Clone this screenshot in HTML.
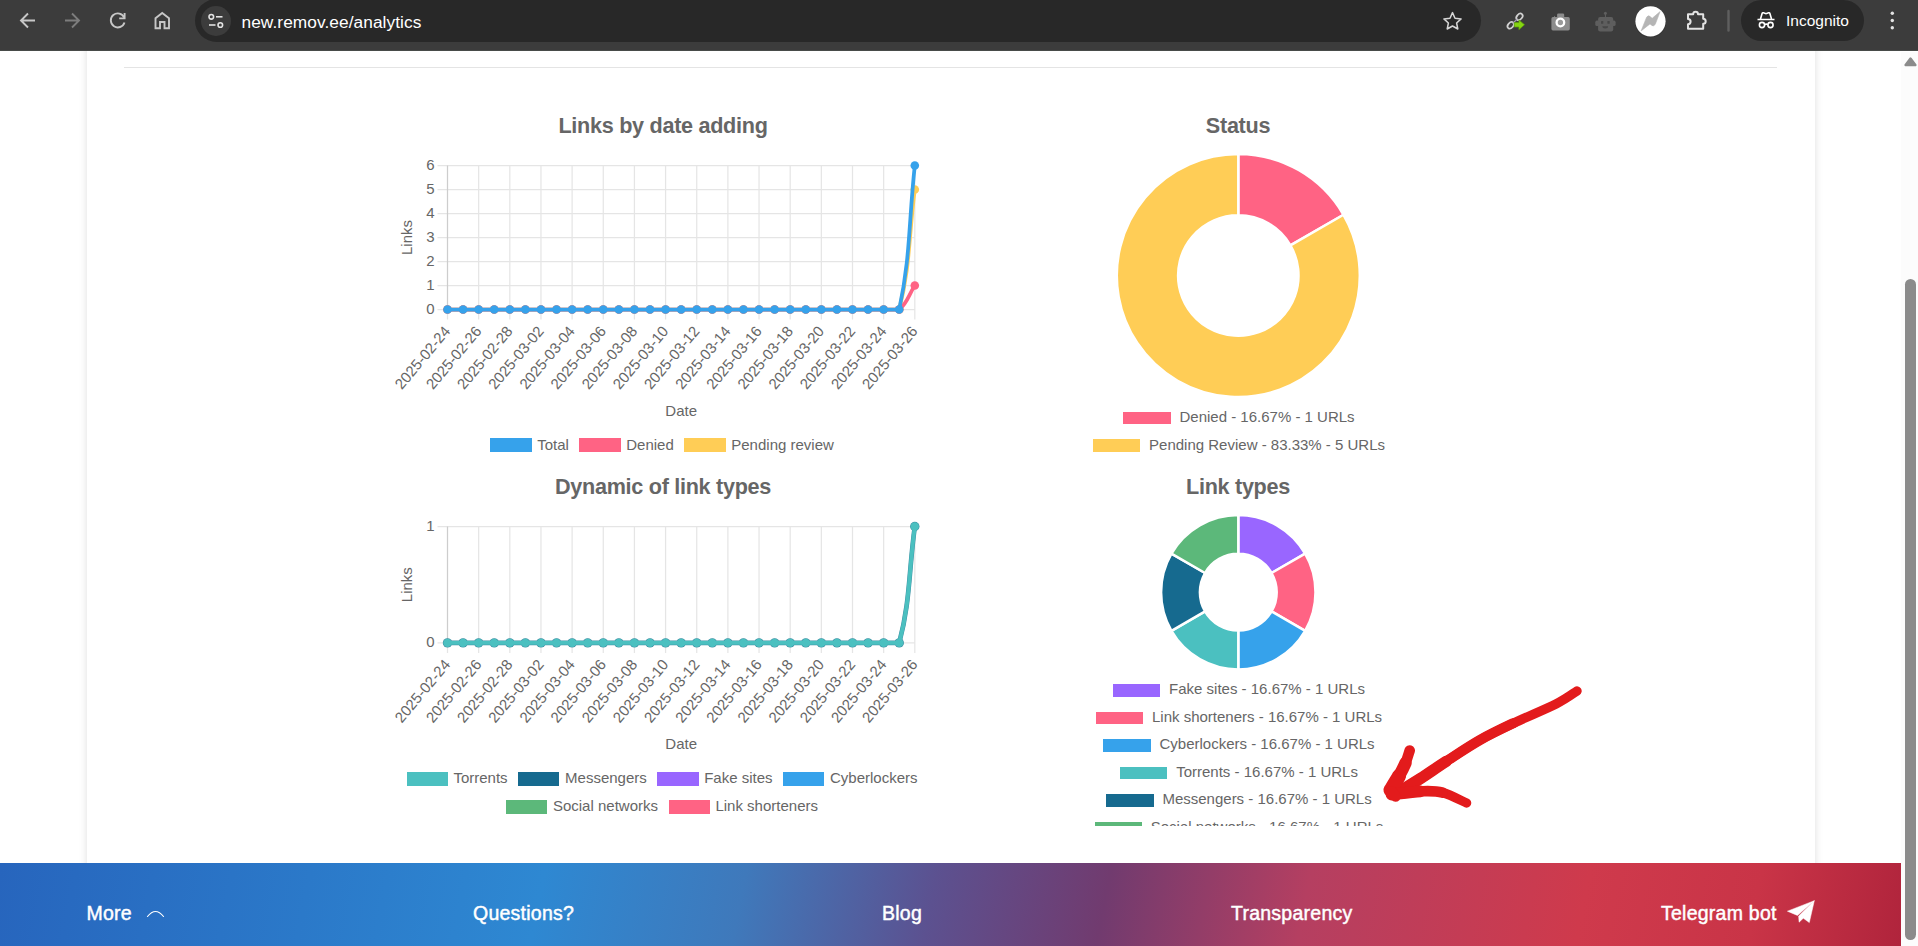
<!DOCTYPE html>
<html lang="en"><head><meta charset="utf-8"><title>Analytics</title>
<style>
*{box-sizing:border-box}
html,body{margin:0;padding:0}
body{width:1918px;height:946px;overflow:hidden;position:relative;background:#fff;font-family:"Liberation Sans",Arial,sans-serif;color:#666}
#toolbar{position:absolute;left:0;top:0;width:1918px;height:51px;background:#3c3c3c;border-bottom:1px solid #484b49}
#omni{position:absolute;left:195px;top:-1px;width:1286px;height:43px;border-radius:22px;background:#282828}
#omni .site{position:absolute;left:6px;top:7px;width:30.4px;height:30.4px;border-radius:50%;background:#3c3c3c}
#url{position:absolute;left:241.5px;top:10.9px;font-size:17.3px;line-height:22px;color:#fff;white-space:nowrap;letter-spacing:0.07px}
#url span{color:#fff}
#incog{position:absolute;left:1741px;top:0;width:123px;height:41px;border-radius:21px;background:#282828}
#incog b{position:absolute;left:45px;top:10.6px;font-weight:normal;font-size:15.5px;line-height:20px;color:#fff}
.tb{position:absolute;top:0;left:0}
#card{position:absolute;left:87px;top:40px;width:1728px;height:920px;background:#fff;box-shadow:0 0 8px rgba(0,0,0,0.13)}
#hr{position:absolute;left:124px;top:67px;width:1653px;height:1px;background:#e4e4e4}
h3{position:absolute;margin:0;font-size:22.5px;line-height:26px;font-weight:bold;color:#666;white-space:nowrap;text-align:center;letter-spacing:-0.3px;transform:translateX(-50%) scaleX(0.96)}
.chart{position:absolute;overflow:hidden}
.lg{position:absolute;text-align:center;white-space:nowrap;font-size:15px;line-height:15px;height:15px;color:#666}
.li{display:inline-block;margin:0 6.25px;height:15px;vertical-align:top;position:relative}
.li u{text-decoration:none;position:relative;top:-1.6px}
.pie .li u{top:-1.5px}
.l1 .li u{top:-0.9px}
.li i{display:inline-block;vertical-align:top;margin-right:7.5px}
.line .li i{width:41.25px;height:13.75px;margin:0.6px 5.6px 0 -1.9px}
.pie .li i{width:47.5px;height:12.5px;margin:1.25px 8.75px 0 1.25px}
#footer{position:absolute;left:0;top:863px;width:1901px;height:83px;background:linear-gradient(101deg,#2765bd 0%,#2e88d2 28.5%,#3f79bb 39%,#5c5190 49%,#713b6f 58%,#b53f61 68.5%,#cf3a4c 83%,#c93447 92%,#b0243c 100%)}
#footer a{position:absolute;top:0;line-height:100px;font-size:19.5px;color:#fff;text-decoration:none;white-space:nowrap;-webkit-text-stroke:0.45px #fff;letter-spacing:0.25px}
#sb{position:absolute;left:1901px;top:52px;width:17px;height:894px;background:#fcfcfc}
#sb .thumb{position:absolute;left:4px;top:227px;width:11px;height:661px;border-radius:5.5px;background:#8b8b8b}
#sb .up{position:absolute;left:0;top:0}
#clipR{position:absolute;left:1060px;top:470px;width:380px;height:356px;overflow:hidden}
#arrow{position:absolute;left:0;top:0;pointer-events:none}
</style></head><body>

<div id="card"></div><div id="hr"></div>
<h3 style="left:663px;top:113.4px">Links by date adding</h3>
<h3 style="left:1238px;top:113.4px">Status</h3>
<h3 style="left:663px;top:474.4px">Dynamic of link types</h3>
<h3 style="left:1238px;top:474.4px">Link types</h3>
<svg class="chart" style="left:385px;top:150px" width="560" height="285" viewBox="385 150 560 285" font-family='"Liberation Sans", Arial, sans-serif' font-size="15" fill="#666">
<path d="M447.50,165.5V319.5 M478.65,165.5V319.5 M509.81,165.5V319.5 M540.96,165.5V319.5 M572.11,165.5V319.5 M603.27,165.5V319.5 M634.42,165.5V319.5 M665.57,165.5V319.5 M696.73,165.5V319.5 M727.88,165.5V319.5 M759.03,165.5V319.5 M790.19,165.5V319.5 M821.34,165.5V319.5 M852.49,165.5V319.5 M883.65,165.5V319.5 M914.80,165.5V319.5 M437.50,309.50H914.8 M437.50,285.50H914.8 M437.50,261.50H914.8 M437.50,237.50H914.8 M437.50,213.50H914.8 M437.50,189.50H914.8 M437.50,165.50H914.8" stroke="rgba(0,0,0,0.1)" stroke-width="1.25" fill="none"/>
<path d="M447.5,165.5V309.5" stroke="rgba(0,0,0,0.1)" stroke-width="1.25" fill="none"/>
<text x="434.50" y="313.90" text-anchor="end">0</text>
<text x="434.50" y="289.90" text-anchor="end">1</text>
<text x="434.50" y="265.90" text-anchor="end">2</text>
<text x="434.50" y="241.90" text-anchor="end">3</text>
<text x="434.50" y="217.90" text-anchor="end">4</text>
<text x="434.50" y="193.90" text-anchor="end">5</text>
<text x="434.50" y="169.90" text-anchor="end">6</text>
<text transform="translate(412.3,237.50) rotate(-90)" text-anchor="middle">Links</text>
<text transform="translate(451.10,331.50) rotate(-50)" text-anchor="end">2025-02-24</text>
<text transform="translate(482.25,331.50) rotate(-50)" text-anchor="end">2025-02-26</text>
<text transform="translate(513.41,331.50) rotate(-50)" text-anchor="end">2025-02-28</text>
<text transform="translate(544.56,331.50) rotate(-50)" text-anchor="end">2025-03-02</text>
<text transform="translate(575.71,331.50) rotate(-50)" text-anchor="end">2025-03-04</text>
<text transform="translate(606.87,331.50) rotate(-50)" text-anchor="end">2025-03-06</text>
<text transform="translate(638.02,331.50) rotate(-50)" text-anchor="end">2025-03-08</text>
<text transform="translate(669.17,331.50) rotate(-50)" text-anchor="end">2025-03-10</text>
<text transform="translate(700.33,331.50) rotate(-50)" text-anchor="end">2025-03-12</text>
<text transform="translate(731.48,331.50) rotate(-50)" text-anchor="end">2025-03-14</text>
<text transform="translate(762.63,331.50) rotate(-50)" text-anchor="end">2025-03-16</text>
<text transform="translate(793.79,331.50) rotate(-50)" text-anchor="end">2025-03-18</text>
<text transform="translate(824.94,331.50) rotate(-50)" text-anchor="end">2025-03-20</text>
<text transform="translate(856.09,331.50) rotate(-50)" text-anchor="end">2025-03-22</text>
<text transform="translate(887.25,331.50) rotate(-50)" text-anchor="end">2025-03-24</text>
<text transform="translate(918.40,331.50) rotate(-50)" text-anchor="end">2025-03-26</text>
<text x="681.15" y="415.5" text-anchor="middle">Date</text>
<path d="M447.50,309.50 C453.73,309.50 456.85,309.50 463.08,309.50 C469.31,309.50 472.42,309.50 478.65,309.50 C484.88,309.50 488.00,309.50 494.23,309.50 C500.46,309.50 503.58,309.50 509.81,309.50 C516.04,309.50 519.15,309.50 525.38,309.50 C531.61,309.50 534.73,309.50 540.96,309.50 C547.19,309.50 550.31,309.50 556.54,309.50 C562.77,309.50 565.88,309.50 572.11,309.50 C578.34,309.50 581.46,309.50 587.69,309.50 C593.92,309.50 597.04,309.50 603.27,309.50 C609.50,309.50 612.61,309.50 618.84,309.50 C625.07,309.50 628.19,309.50 634.42,309.50 C640.65,309.50 643.77,309.50 650.00,309.50 C656.23,309.50 659.34,309.50 665.57,309.50 C671.80,309.50 674.92,309.50 681.15,309.50 C687.38,309.50 690.50,309.50 696.73,309.50 C702.96,309.50 706.07,309.50 712.30,309.50 C718.53,309.50 721.65,309.50 727.88,309.50 C734.11,309.50 737.23,309.50 743.46,309.50 C749.69,309.50 752.80,309.50 759.03,309.50 C765.26,309.50 768.38,309.50 774.61,309.50 C780.84,309.50 783.96,309.50 790.19,309.50 C796.42,309.50 799.53,309.50 805.76,309.50 C811.99,309.50 815.11,309.50 821.34,309.50 C827.57,309.50 830.69,309.50 836.92,309.50 C843.15,309.50 846.26,309.50 852.49,309.50 C858.72,309.50 861.84,309.50 868.07,309.50 C874.30,309.50 877.42,309.50 883.65,309.50 C889.88,309.50 897.80,309.50 899.22,309.50 C910.26,266.97 908.57,237.50 914.80,189.50" stroke="#ffcd56" stroke-width="3.75" fill="none" stroke-linejoin="round"/>
<g fill="#ffcd56"><circle cx="447.50" cy="309.50" r="4.3"/><circle cx="463.08" cy="309.50" r="4.3"/><circle cx="478.65" cy="309.50" r="4.3"/><circle cx="494.23" cy="309.50" r="4.3"/><circle cx="509.81" cy="309.50" r="4.3"/><circle cx="525.38" cy="309.50" r="4.3"/><circle cx="540.96" cy="309.50" r="4.3"/><circle cx="556.54" cy="309.50" r="4.3"/><circle cx="572.11" cy="309.50" r="4.3"/><circle cx="587.69" cy="309.50" r="4.3"/><circle cx="603.27" cy="309.50" r="4.3"/><circle cx="618.84" cy="309.50" r="4.3"/><circle cx="634.42" cy="309.50" r="4.3"/><circle cx="650.00" cy="309.50" r="4.3"/><circle cx="665.57" cy="309.50" r="4.3"/><circle cx="681.15" cy="309.50" r="4.3"/><circle cx="696.73" cy="309.50" r="4.3"/><circle cx="712.30" cy="309.50" r="4.3"/><circle cx="727.88" cy="309.50" r="4.3"/><circle cx="743.46" cy="309.50" r="4.3"/><circle cx="759.03" cy="309.50" r="4.3"/><circle cx="774.61" cy="309.50" r="4.3"/><circle cx="790.19" cy="309.50" r="4.3"/><circle cx="805.76" cy="309.50" r="4.3"/><circle cx="821.34" cy="309.50" r="4.3"/><circle cx="836.92" cy="309.50" r="4.3"/><circle cx="852.49" cy="309.50" r="4.3"/><circle cx="868.07" cy="309.50" r="4.3"/><circle cx="883.65" cy="309.50" r="4.3"/><circle cx="899.22" cy="309.50" r="4.3"/><circle cx="914.80" cy="189.50" r="4.3"/></g>
<path d="M447.50,309.50 C453.73,309.50 456.85,309.50 463.08,309.50 C469.31,309.50 472.42,309.50 478.65,309.50 C484.88,309.50 488.00,309.50 494.23,309.50 C500.46,309.50 503.58,309.50 509.81,309.50 C516.04,309.50 519.15,309.50 525.38,309.50 C531.61,309.50 534.73,309.50 540.96,309.50 C547.19,309.50 550.31,309.50 556.54,309.50 C562.77,309.50 565.88,309.50 572.11,309.50 C578.34,309.50 581.46,309.50 587.69,309.50 C593.92,309.50 597.04,309.50 603.27,309.50 C609.50,309.50 612.61,309.50 618.84,309.50 C625.07,309.50 628.19,309.50 634.42,309.50 C640.65,309.50 643.77,309.50 650.00,309.50 C656.23,309.50 659.34,309.50 665.57,309.50 C671.80,309.50 674.92,309.50 681.15,309.50 C687.38,309.50 690.50,309.50 696.73,309.50 C702.96,309.50 706.07,309.50 712.30,309.50 C718.53,309.50 721.65,309.50 727.88,309.50 C734.11,309.50 737.23,309.50 743.46,309.50 C749.69,309.50 752.80,309.50 759.03,309.50 C765.26,309.50 768.38,309.50 774.61,309.50 C780.84,309.50 783.96,309.50 790.19,309.50 C796.42,309.50 799.53,309.50 805.76,309.50 C811.99,309.50 815.11,309.50 821.34,309.50 C827.57,309.50 830.69,309.50 836.92,309.50 C843.15,309.50 846.26,309.50 852.49,309.50 C858.72,309.50 861.84,309.50 868.07,309.50 C874.30,309.50 877.42,309.50 883.65,309.50 C889.88,309.50 894.83,309.50 899.22,309.50 C907.29,303.28 908.57,295.10 914.80,285.50" stroke="#ff6384" stroke-width="3.75" fill="none" stroke-linejoin="round"/>
<g fill="#ff6384"><circle cx="447.50" cy="309.50" r="4.3"/><circle cx="463.08" cy="309.50" r="4.3"/><circle cx="478.65" cy="309.50" r="4.3"/><circle cx="494.23" cy="309.50" r="4.3"/><circle cx="509.81" cy="309.50" r="4.3"/><circle cx="525.38" cy="309.50" r="4.3"/><circle cx="540.96" cy="309.50" r="4.3"/><circle cx="556.54" cy="309.50" r="4.3"/><circle cx="572.11" cy="309.50" r="4.3"/><circle cx="587.69" cy="309.50" r="4.3"/><circle cx="603.27" cy="309.50" r="4.3"/><circle cx="618.84" cy="309.50" r="4.3"/><circle cx="634.42" cy="309.50" r="4.3"/><circle cx="650.00" cy="309.50" r="4.3"/><circle cx="665.57" cy="309.50" r="4.3"/><circle cx="681.15" cy="309.50" r="4.3"/><circle cx="696.73" cy="309.50" r="4.3"/><circle cx="712.30" cy="309.50" r="4.3"/><circle cx="727.88" cy="309.50" r="4.3"/><circle cx="743.46" cy="309.50" r="4.3"/><circle cx="759.03" cy="309.50" r="4.3"/><circle cx="774.61" cy="309.50" r="4.3"/><circle cx="790.19" cy="309.50" r="4.3"/><circle cx="805.76" cy="309.50" r="4.3"/><circle cx="821.34" cy="309.50" r="4.3"/><circle cx="836.92" cy="309.50" r="4.3"/><circle cx="852.49" cy="309.50" r="4.3"/><circle cx="868.07" cy="309.50" r="4.3"/><circle cx="883.65" cy="309.50" r="4.3"/><circle cx="899.22" cy="309.50" r="4.3"/><circle cx="914.80" cy="285.50" r="4.3"/></g>
<path d="M447.50,309.50 C453.73,309.50 456.85,309.50 463.08,309.50 C469.31,309.50 472.42,309.50 478.65,309.50 C484.88,309.50 488.00,309.50 494.23,309.50 C500.46,309.50 503.58,309.50 509.81,309.50 C516.04,309.50 519.15,309.50 525.38,309.50 C531.61,309.50 534.73,309.50 540.96,309.50 C547.19,309.50 550.31,309.50 556.54,309.50 C562.77,309.50 565.88,309.50 572.11,309.50 C578.34,309.50 581.46,309.50 587.69,309.50 C593.92,309.50 597.04,309.50 603.27,309.50 C609.50,309.50 612.61,309.50 618.84,309.50 C625.07,309.50 628.19,309.50 634.42,309.50 C640.65,309.50 643.77,309.50 650.00,309.50 C656.23,309.50 659.34,309.50 665.57,309.50 C671.80,309.50 674.92,309.50 681.15,309.50 C687.38,309.50 690.50,309.50 696.73,309.50 C702.96,309.50 706.07,309.50 712.30,309.50 C718.53,309.50 721.65,309.50 727.88,309.50 C734.11,309.50 737.23,309.50 743.46,309.50 C749.69,309.50 752.80,309.50 759.03,309.50 C765.26,309.50 768.38,309.50 774.61,309.50 C780.84,309.50 783.96,309.50 790.19,309.50 C796.42,309.50 799.53,309.50 805.76,309.50 C811.99,309.50 815.11,309.50 821.34,309.50 C827.57,309.50 830.69,309.50 836.92,309.50 C843.15,309.50 846.26,309.50 852.49,309.50 C858.72,309.50 861.84,309.50 868.07,309.50 C874.30,309.50 877.42,309.50 883.65,309.50 C889.88,309.50 898.01,309.50 899.22,309.50 C910.47,257.49 908.57,223.10 914.80,165.50" stroke="#36a2eb" stroke-width="3.75" fill="none" stroke-linejoin="round"/>
<g fill="#36a2eb"><circle cx="447.50" cy="309.50" r="4.3"/><circle cx="463.08" cy="309.50" r="4.3"/><circle cx="478.65" cy="309.50" r="4.3"/><circle cx="494.23" cy="309.50" r="4.3"/><circle cx="509.81" cy="309.50" r="4.3"/><circle cx="525.38" cy="309.50" r="4.3"/><circle cx="540.96" cy="309.50" r="4.3"/><circle cx="556.54" cy="309.50" r="4.3"/><circle cx="572.11" cy="309.50" r="4.3"/><circle cx="587.69" cy="309.50" r="4.3"/><circle cx="603.27" cy="309.50" r="4.3"/><circle cx="618.84" cy="309.50" r="4.3"/><circle cx="634.42" cy="309.50" r="4.3"/><circle cx="650.00" cy="309.50" r="4.3"/><circle cx="665.57" cy="309.50" r="4.3"/><circle cx="681.15" cy="309.50" r="4.3"/><circle cx="696.73" cy="309.50" r="4.3"/><circle cx="712.30" cy="309.50" r="4.3"/><circle cx="727.88" cy="309.50" r="4.3"/><circle cx="743.46" cy="309.50" r="4.3"/><circle cx="759.03" cy="309.50" r="4.3"/><circle cx="774.61" cy="309.50" r="4.3"/><circle cx="790.19" cy="309.50" r="4.3"/><circle cx="805.76" cy="309.50" r="4.3"/><circle cx="821.34" cy="309.50" r="4.3"/><circle cx="836.92" cy="309.50" r="4.3"/><circle cx="852.49" cy="309.50" r="4.3"/><circle cx="868.07" cy="309.50" r="4.3"/><circle cx="883.65" cy="309.50" r="4.3"/><circle cx="899.22" cy="309.50" r="4.3"/><circle cx="914.80" cy="165.50" r="4.3"/></g>
</svg>
<div class="lg line l1" style="top:437.7px;left:63px;width:1200px"><span class="li"><i style="background:#36a2eb"></i><u>Total</u></span><span class="li"><i style="background:#ff6384"></i><u>Denied</u></span><span class="li"><i style="background:#ffcd56"></i><u>Pending review</u></span></div>
<svg class="chart" style="left:385px;top:510px" width="560" height="245" viewBox="385 510 560 245" font-family='"Liberation Sans", Arial, sans-serif' font-size="15" fill="#666">
<path d="M447.50,526.5V652.9 M478.65,526.5V652.9 M509.81,526.5V652.9 M540.96,526.5V652.9 M572.11,526.5V652.9 M603.27,526.5V652.9 M634.42,526.5V652.9 M665.57,526.5V652.9 M696.73,526.5V652.9 M727.88,526.5V652.9 M759.03,526.5V652.9 M790.19,526.5V652.9 M821.34,526.5V652.9 M852.49,526.5V652.9 M883.65,526.5V652.9 M914.80,526.5V652.9 M437.50,642.90H914.8 M437.50,526.50H914.8" stroke="rgba(0,0,0,0.1)" stroke-width="1.25" fill="none"/>
<path d="M447.5,526.5V642.9" stroke="rgba(0,0,0,0.1)" stroke-width="1.25" fill="none"/>
<text x="434.50" y="647.30" text-anchor="end">0</text>
<text x="434.50" y="530.90" text-anchor="end">1</text>
<text transform="translate(412.3,584.70) rotate(-90)" text-anchor="middle">Links</text>
<text transform="translate(451.10,664.90) rotate(-50)" text-anchor="end">2025-02-24</text>
<text transform="translate(482.25,664.90) rotate(-50)" text-anchor="end">2025-02-26</text>
<text transform="translate(513.41,664.90) rotate(-50)" text-anchor="end">2025-02-28</text>
<text transform="translate(544.56,664.90) rotate(-50)" text-anchor="end">2025-03-02</text>
<text transform="translate(575.71,664.90) rotate(-50)" text-anchor="end">2025-03-04</text>
<text transform="translate(606.87,664.90) rotate(-50)" text-anchor="end">2025-03-06</text>
<text transform="translate(638.02,664.90) rotate(-50)" text-anchor="end">2025-03-08</text>
<text transform="translate(669.17,664.90) rotate(-50)" text-anchor="end">2025-03-10</text>
<text transform="translate(700.33,664.90) rotate(-50)" text-anchor="end">2025-03-12</text>
<text transform="translate(731.48,664.90) rotate(-50)" text-anchor="end">2025-03-14</text>
<text transform="translate(762.63,664.90) rotate(-50)" text-anchor="end">2025-03-16</text>
<text transform="translate(793.79,664.90) rotate(-50)" text-anchor="end">2025-03-18</text>
<text transform="translate(824.94,664.90) rotate(-50)" text-anchor="end">2025-03-20</text>
<text transform="translate(856.09,664.90) rotate(-50)" text-anchor="end">2025-03-22</text>
<text transform="translate(887.25,664.90) rotate(-50)" text-anchor="end">2025-03-24</text>
<text transform="translate(918.40,664.90) rotate(-50)" text-anchor="end">2025-03-26</text>
<text x="681.15" y="748.5" text-anchor="middle">Date</text>
<path d="M447.50,642.90 C453.73,642.90 456.85,642.90 463.08,642.90 C469.31,642.90 472.42,642.90 478.65,642.90 C484.88,642.90 488.00,642.90 494.23,642.90 C500.46,642.90 503.58,642.90 509.81,642.90 C516.04,642.90 519.15,642.90 525.38,642.90 C531.61,642.90 534.73,642.90 540.96,642.90 C547.19,642.90 550.31,642.90 556.54,642.90 C562.77,642.90 565.88,642.90 572.11,642.90 C578.34,642.90 581.46,642.90 587.69,642.90 C593.92,642.90 597.04,642.90 603.27,642.90 C609.50,642.90 612.61,642.90 618.84,642.90 C625.07,642.90 628.19,642.90 634.42,642.90 C640.65,642.90 643.77,642.90 650.00,642.90 C656.23,642.90 659.34,642.90 665.57,642.90 C671.80,642.90 674.92,642.90 681.15,642.90 C687.38,642.90 690.50,642.90 696.73,642.90 C702.96,642.90 706.07,642.90 712.30,642.90 C718.53,642.90 721.65,642.90 727.88,642.90 C734.11,642.90 737.23,642.90 743.46,642.90 C749.69,642.90 752.80,642.90 759.03,642.90 C765.26,642.90 768.38,642.90 774.61,642.90 C780.84,642.90 783.96,642.90 790.19,642.90 C796.42,642.90 799.53,642.90 805.76,642.90 C811.99,642.90 815.11,642.90 821.34,642.90 C827.57,642.90 830.69,642.90 836.92,642.90 C843.15,642.90 846.26,642.90 852.49,642.90 C858.72,642.90 861.84,642.90 868.07,642.90 C874.30,642.90 877.42,642.90 883.65,642.90 C889.88,642.90 897.76,642.90 899.22,642.90 C910.23,601.79 908.57,573.06 914.80,526.50" stroke="#3f8fa3" stroke-width="4.7" fill="none" stroke-linejoin="round"/>
<g fill="#3f8fa3"><circle cx="447.50" cy="642.90" r="4.7"/><circle cx="463.08" cy="642.90" r="4.7"/><circle cx="478.65" cy="642.90" r="4.7"/><circle cx="494.23" cy="642.90" r="4.7"/><circle cx="509.81" cy="642.90" r="4.7"/><circle cx="525.38" cy="642.90" r="4.7"/><circle cx="540.96" cy="642.90" r="4.7"/><circle cx="556.54" cy="642.90" r="4.7"/><circle cx="572.11" cy="642.90" r="4.7"/><circle cx="587.69" cy="642.90" r="4.7"/><circle cx="603.27" cy="642.90" r="4.7"/><circle cx="618.84" cy="642.90" r="4.7"/><circle cx="634.42" cy="642.90" r="4.7"/><circle cx="650.00" cy="642.90" r="4.7"/><circle cx="665.57" cy="642.90" r="4.7"/><circle cx="681.15" cy="642.90" r="4.7"/><circle cx="696.73" cy="642.90" r="4.7"/><circle cx="712.30" cy="642.90" r="4.7"/><circle cx="727.88" cy="642.90" r="4.7"/><circle cx="743.46" cy="642.90" r="4.7"/><circle cx="759.03" cy="642.90" r="4.7"/><circle cx="774.61" cy="642.90" r="4.7"/><circle cx="790.19" cy="642.90" r="4.7"/><circle cx="805.76" cy="642.90" r="4.7"/><circle cx="821.34" cy="642.90" r="4.7"/><circle cx="836.92" cy="642.90" r="4.7"/><circle cx="852.49" cy="642.90" r="4.7"/><circle cx="868.07" cy="642.90" r="4.7"/><circle cx="883.65" cy="642.90" r="4.7"/><circle cx="899.22" cy="642.90" r="4.7"/><circle cx="914.80" cy="526.50" r="4.7"/></g>
<path d="M447.50,642.90 C453.73,642.90 456.85,642.90 463.08,642.90 C469.31,642.90 472.42,642.90 478.65,642.90 C484.88,642.90 488.00,642.90 494.23,642.90 C500.46,642.90 503.58,642.90 509.81,642.90 C516.04,642.90 519.15,642.90 525.38,642.90 C531.61,642.90 534.73,642.90 540.96,642.90 C547.19,642.90 550.31,642.90 556.54,642.90 C562.77,642.90 565.88,642.90 572.11,642.90 C578.34,642.90 581.46,642.90 587.69,642.90 C593.92,642.90 597.04,642.90 603.27,642.90 C609.50,642.90 612.61,642.90 618.84,642.90 C625.07,642.90 628.19,642.90 634.42,642.90 C640.65,642.90 643.77,642.90 650.00,642.90 C656.23,642.90 659.34,642.90 665.57,642.90 C671.80,642.90 674.92,642.90 681.15,642.90 C687.38,642.90 690.50,642.90 696.73,642.90 C702.96,642.90 706.07,642.90 712.30,642.90 C718.53,642.90 721.65,642.90 727.88,642.90 C734.11,642.90 737.23,642.90 743.46,642.90 C749.69,642.90 752.80,642.90 759.03,642.90 C765.26,642.90 768.38,642.90 774.61,642.90 C780.84,642.90 783.96,642.90 790.19,642.90 C796.42,642.90 799.53,642.90 805.76,642.90 C811.99,642.90 815.11,642.90 821.34,642.90 C827.57,642.90 830.69,642.90 836.92,642.90 C843.15,642.90 846.26,642.90 852.49,642.90 C858.72,642.90 861.84,642.90 868.07,642.90 C874.30,642.90 877.42,642.90 883.65,642.90 C889.88,642.90 897.76,642.90 899.22,642.90 C910.23,601.79 908.57,573.06 914.80,526.50" stroke="#4bc0c0" stroke-width="3.9" fill="none" stroke-linejoin="round"/>
<g fill="#4bc0c0"><circle cx="447.50" cy="642.90" r="4.2"/><circle cx="463.08" cy="642.90" r="4.2"/><circle cx="478.65" cy="642.90" r="4.2"/><circle cx="494.23" cy="642.90" r="4.2"/><circle cx="509.81" cy="642.90" r="4.2"/><circle cx="525.38" cy="642.90" r="4.2"/><circle cx="540.96" cy="642.90" r="4.2"/><circle cx="556.54" cy="642.90" r="4.2"/><circle cx="572.11" cy="642.90" r="4.2"/><circle cx="587.69" cy="642.90" r="4.2"/><circle cx="603.27" cy="642.90" r="4.2"/><circle cx="618.84" cy="642.90" r="4.2"/><circle cx="634.42" cy="642.90" r="4.2"/><circle cx="650.00" cy="642.90" r="4.2"/><circle cx="665.57" cy="642.90" r="4.2"/><circle cx="681.15" cy="642.90" r="4.2"/><circle cx="696.73" cy="642.90" r="4.2"/><circle cx="712.30" cy="642.90" r="4.2"/><circle cx="727.88" cy="642.90" r="4.2"/><circle cx="743.46" cy="642.90" r="4.2"/><circle cx="759.03" cy="642.90" r="4.2"/><circle cx="774.61" cy="642.90" r="4.2"/><circle cx="790.19" cy="642.90" r="4.2"/><circle cx="805.76" cy="642.90" r="4.2"/><circle cx="821.34" cy="642.90" r="4.2"/><circle cx="836.92" cy="642.90" r="4.2"/><circle cx="852.49" cy="642.90" r="4.2"/><circle cx="868.07" cy="642.90" r="4.2"/><circle cx="883.65" cy="642.90" r="4.2"/><circle cx="899.22" cy="642.90" r="4.2"/><circle cx="914.80" cy="526.50" r="4.2"/></g>
</svg>
<div class="lg line" style="top:771.5px;left:63px;width:1200px"><span class="li"><i style="background:#4bc0c0"></i><u>Torrents</u></span><span class="li"><i style="background:#166a8f"></i><u>Messengers</u></span><span class="li"><i style="background:#9966ff"></i><u>Fake sites</u></span><span class="li"><i style="background:#36a2eb"></i><u>Cyberlockers</u></span></div>
<div class="lg line" style="top:799.4px;left:63px;width:1200px"><span class="li"><i style="background:#5cb87a"></i><u>Social networks</u></span><span class="li"><i style="background:#ff6384"></i><u>Link shorteners</u></span></div>
<svg class="chart" style="left:1100px;top:150px" width="280" height="252" viewBox="1100 150 280 252">
<path d="M1238.30,154.00A121.5,121.5 0 0 1 1343.52,214.75L1290.43,245.40A60.2,60.2 0 0 0 1238.30,215.30Z" fill="#ff6384" stroke="#fff" stroke-width="2.5" stroke-linejoin="round"/>
<path d="M1343.52,214.75A121.5,121.5 0 1 1 1238.30,154.00L1238.30,215.30A60.2,60.2 0 1 0 1290.43,245.40Z" fill="#ffcd56" stroke="#fff" stroke-width="2.5" stroke-linejoin="round"/>
</svg>
<div class="lg pie" style="top:410.5px;left:638.3px;width:1200px"><span class="li"><i style="background:#ff6384"></i><u>Denied - 16.67% - 1 URLs</u></span></div>
<div class="lg pie" style="top:438px;left:638.3px;width:1200px"><span class="li"><i style="background:#ffcd56"></i><u>Pending Review - 83.33% - 5 URLs</u></span></div>
<div id="clipR">
<svg class="chart" style="left:80px;top:35px" width="220" height="175" viewBox="1140 505 220 175">
<path d="M1238.30,515.00A77.2,77.2 0 0 1 1305.16,553.60L1271.56,573.00A38.4,38.4 0 0 0 1238.30,553.80Z" fill="#9966ff" stroke="#fff" stroke-width="2.5" stroke-linejoin="round"/>
<path d="M1305.16,553.60A77.2,77.2 0 0 1 1305.16,630.80L1271.56,611.40A38.4,38.4 0 0 0 1271.56,573.00Z" fill="#ff6384" stroke="#fff" stroke-width="2.5" stroke-linejoin="round"/>
<path d="M1305.16,630.80A77.2,77.2 0 0 1 1238.30,669.40L1238.30,630.60A38.4,38.4 0 0 0 1271.56,611.40Z" fill="#36a2eb" stroke="#fff" stroke-width="2.5" stroke-linejoin="round"/>
<path d="M1238.30,669.40A77.2,77.2 0 0 1 1171.44,630.80L1205.04,611.40A38.4,38.4 0 0 0 1238.30,630.60Z" fill="#4bc0c0" stroke="#fff" stroke-width="2.5" stroke-linejoin="round"/>
<path d="M1171.44,630.80A77.2,77.2 0 0 1 1171.44,553.60L1205.04,573.00A38.4,38.4 0 0 0 1205.04,611.40Z" fill="#166a8f" stroke="#fff" stroke-width="2.5" stroke-linejoin="round"/>
<path d="M1171.44,553.60A77.2,77.2 0 0 1 1238.30,515.00L1238.30,553.80A38.4,38.4 0 0 0 1205.04,573.00Z" fill="#5cb87a" stroke="#fff" stroke-width="2.5" stroke-linejoin="round"/>
</svg>
<div class="lg pie" style="top:212.75px;left:-421.70000000000005px;width:1200px"><span class="li"><i style="background:#9966ff"></i><u>Fake sites - 16.67% - 1 URLs</u></span></div>
<div class="lg pie" style="top:240.25px;left:-421.70000000000005px;width:1200px"><span class="li"><i style="background:#ff6384"></i><u>Link shorteners - 16.67% - 1 URLs</u></span></div>
<div class="lg pie" style="top:267.75px;left:-421.70000000000005px;width:1200px"><span class="li"><i style="background:#36a2eb"></i><u>Cyberlockers - 16.67% - 1 URLs</u></span></div>
<div class="lg pie" style="top:295.25px;left:-421.70000000000005px;width:1200px"><span class="li"><i style="background:#4bc0c0"></i><u>Torrents - 16.67% - 1 URLs</u></span></div>
<div class="lg pie" style="top:322.75px;left:-421.70000000000005px;width:1200px"><span class="li"><i style="background:#166a8f"></i><u>Messengers - 16.67% - 1 URLs</u></span></div>
<div class="lg pie" style="top:350.25px;left:-421.70000000000005px;width:1200px"><span class="li"><i style="background:#5cb87a"></i><u>Social networks - 16.67% - 1 URLs</u></span></div>
</div>
<div id="footer">
<a style="left:86.5px">More</a>
<svg style="position:absolute;left:146px;top:45px" width="20" height="12" viewBox="0 0 20 12"><path d="M1.5,8.5 Q9.5,-1.5 17.5,8.5" fill="none" stroke="#fff" stroke-width="1.15" stroke-linecap="round"/></svg>
<a style="left:473px">Questions?</a>
<a style="left:882px">Blog</a>
<a style="left:1231px">Transparency</a>
<a style="left:1661px">Telegram bot</a>
<svg style="position:absolute;left:0;top:0" width="1901" height="83" viewBox="0 863 1901 83"><path d="M1814.3,900.7L1787.4,911.2L1797.4,915.4Z M1814.3,900.7L1798.6,916L1799.1,922.2L1803.3,918.2L1809.3,922.6Z" fill="#fff" stroke="#fff" stroke-width="0.5" stroke-linejoin="round"/></svg>
</div>
<div id="sb"><svg class="up" width="17" height="20" viewBox="1901 52 17 20"><path d="M1910.5,58.6L1915.4,65H1905.6Z" fill="#8b8b8b" stroke="#8b8b8b" stroke-width="2.4" stroke-linejoin="round"/></svg><div class="thumb"></div></div>
<div id="toolbar">
<div id="omni"><div class="site"></div></div>
<div id="url">new.remov.ee<span>/analytics</span></div>
<div id="incog"><b>Incognito</b></div>
<svg class="tb" width="1918" height="51" viewBox="0 0 1918 51" fill="none" stroke-linecap="butt">
<g stroke="#c7c7c7" stroke-width="1.9">
<path d="M35,20.5H21.5M28,13.5L21,20.5L28,27.5"/>
</g>
<g stroke="#7d7d7d" stroke-width="1.9">
<path d="M65,20.5H78.5M72,13.5L79,20.5L72,27.5"/>
</g>
<g stroke="#c7c7c7" stroke-width="1.9">
<path d="M124.2,17.5A7,7 0 1 0 124.5,22.5"/>
<path d="M124.6,13V18.4H119.2" />
<path d="M155.5,28.2V18.2L162.2,13L169,18.2V28.2H164.5V22H160V28.2Z"/>
</g>
<g stroke="#e3e3e3" stroke-width="1.6">
<circle cx="211.3" cy="16.8" r="2.3"/><path d="M216,16.8H222.5"/>
<circle cx="220.3" cy="25" r="2.3"/><path d="M209,25H215.5"/>
</g>
<path d="M1452.5,12.6L1455,18.2L1461.1,18.9L1456.6,23L1457.8,29L1452.5,26L1447.2,29L1448.4,23L1443.9,18.9L1450,18.2Z" stroke="#d6d6d6" stroke-width="1.5" stroke-linejoin="round"/>
<g stroke="#d2d2d2" stroke-width="1.7">
<ellipse cx="1510.7" cy="25.3" rx="2.6" ry="3.7" transform="rotate(42 1510.7 25.3)"/>
<ellipse cx="1519.5" cy="16.8" rx="2.6" ry="3.7" transform="rotate(42 1519.5 16.8)"/>
<path d="M1512.8,23.2L1517.4,18.9" stroke="#a9a2b8" stroke-width="1.2"/>
</g>
<path d="M1514.3,22.6h4.6v-2.7l5.6,4.8l-5.6,5v-2.7h-4.6z" fill="#86d511" stroke="#5a9e08" stroke-width="0.7" stroke-linejoin="round"/>
<path d="M1553,17.1h1l0.6,-1.3l0.6,1.3h1.9v-2.4q0,-1.2 1.2,-1.2h4.7q1.2,0 1.2,1.2v2.4h4q1.6,0 1.6,1.6v10.1q0,1.6 -1.6,1.6h-15.2q-1.6,0 -1.6,-1.6v-10.1q0,-1.6 1.6,-1.6z" fill="#8c8c8c"/>
<circle cx="1560.4" cy="22.5" r="3.8" stroke="#fff" stroke-width="2.3" fill="#9a9a9a"/>
<g fill="#5e5e5e">
<rect x="1598.1" y="17" width="15.1" height="14.6" rx="2"/>
<rect x="1595.3" y="20.6" width="4" height="5.5" rx="1.6"/><rect x="1612" y="20.6" width="3.6" height="5.5" rx="1.6"/>
<rect x="1604.9" y="13.5" width="1.1" height="4"/><circle cx="1605.4" cy="13.3" r="1.5"/>
</g>
<g fill="#474747"><rect x="1601" y="21" width="2.3" height="2.8" rx="0.6"/><rect x="1607.4" y="21" width="2.3" height="2.8" rx="0.6"/>
<path d="M1602.4,26.2h5.7q0,2.2 -2.85,2.2q-2.85,0 -2.85,-2.2z"/></g>
<circle cx="1650.5" cy="22" r="15.6" fill="#2e2e2e" opacity="0.55"/>
<circle cx="1650.5" cy="21.3" r="15.1" fill="#fff"/>
<path d="M1641.1,30.9L1646.6,17.2Q1648.6,14.6 1650.6,16.9L1652.2,18.3L1660.1,11.6L1655.3,24.3Q1653.2,27.2 1651.3,25L1650,23.9Z" fill="#b5b5b5" stroke="#b5b5b5" stroke-width="0.6" stroke-linejoin="round"/>
<path d="M1688,14.2h5.2a2.4,2.4 0 0 1 4.8,0h5.2v4.6a2.5,2.5 0 0 1 0,5v5h-15.2v-4.6a2.6,2.6 0 0 0 0,-5.2z" stroke="#e3e3e3" stroke-width="2" stroke-linejoin="round"/>
<path d="M1728.5,11V30.5" stroke="#5f5f5f" stroke-width="2.4" stroke-linecap="round"/>
<g stroke="#fff" stroke-width="1.6">
<path d="M1757.5,19.5H1774.5M1760.5,19l1.6,-5.5q0.3,-1 1.3,-0.7l2.6,0.9l2.6,-0.9q1,-0.3 1.3,0.7l1.6,5.5"/>
<circle cx="1762" cy="25" r="2.6"/><circle cx="1770.5" cy="25" r="2.6"/><path d="M1764.6,24.6q1.6,-1 3.3,0"/>
</g>
<g fill="#e3e3e3"><circle cx="1892.3" cy="13.3" r="1.7"/><circle cx="1892.3" cy="20.5" r="1.7"/><circle cx="1892.3" cy="27.7" r="1.7"/></g>
</svg>
</div>
<svg id="arrow" width="1918" height="946" viewBox="0 0 1918 946">
<g fill="none" stroke="#e31b1c" stroke-linecap="round" stroke-linejoin="round">
<path d="M1577.0,691.0 C1573.5,693.2 1566.5,698.7 1556.0,704.0 C1545.5,709.3 1526.5,717.0 1513.8,723.0 C1501.1,729.0 1491.3,733.6 1480.0,740.0 C1468.7,746.4 1455.9,755.1 1446.0,761.5 C1436.1,767.9 1428.9,773.1 1420.7,778.4 C1412.5,783.6 1401.0,790.6 1397.0,793.0" stroke-width="9.4"/>
<path d="M1513.8,723.0 C1501.1,729.0 1491.3,733.6 1480.0,740.0 C1468.7,746.4 1455.9,755.1 1446.0,761.5 C1436.1,767.9 1428.9,773.1 1420.7,778.4 C1412.5,783.6 1401.0,790.6 1397.0,793.0" stroke-width="10.2"/>
<path d="M1446.0,761.5 C1436.1,767.9 1428.9,773.1 1420.7,778.4 C1412.5,783.6 1401.0,790.6 1397.0,793.0" stroke-width="11.4"/>
<path d="M1409.7,750.5 C1409.0,752.6 1407.3,758.8 1405.5,763.0 C1403.7,767.2 1401.5,771.5 1399.0,776.0 C1396.5,780.5 1391.9,787.7 1390.5,790.0" stroke-width="10.6"/>
<path d="M1405.5,763.0 C1403.7,767.2 1401.5,771.5 1399.0,776.0 C1396.5,780.5 1391.9,787.7 1390.5,790.0" stroke-width="12.4"/>
<path d="M1399.0,776.0 C1396.5,780.5 1391.9,787.7 1390.5,790.0" stroke-width="14"/>
<path d="M1391.5,794.5 C1396.4,794.0 1412.2,791.6 1420.7,791.3 C1429.2,791.0 1435.1,790.6 1442.7,792.6 C1450.3,794.6 1462.6,801.3 1466.6,803.0" stroke-width="9.4"/>
<path d="M1391.5,794.5 C1396.4,794.0 1412.2,791.6 1420.7,791.3 C1429.2,791.0 1435.1,790.6 1442.7,792.6" stroke-width="10.6"/>
<path d="M1391.5,794.5 C1396.4,794.0 1412.2,791.6 1420.7,791.3" stroke-width="11.8"/>
<path d="M1391,791.5L1395.5,796.2" stroke-width="11"/>
</g>
</svg>
</body></html>
